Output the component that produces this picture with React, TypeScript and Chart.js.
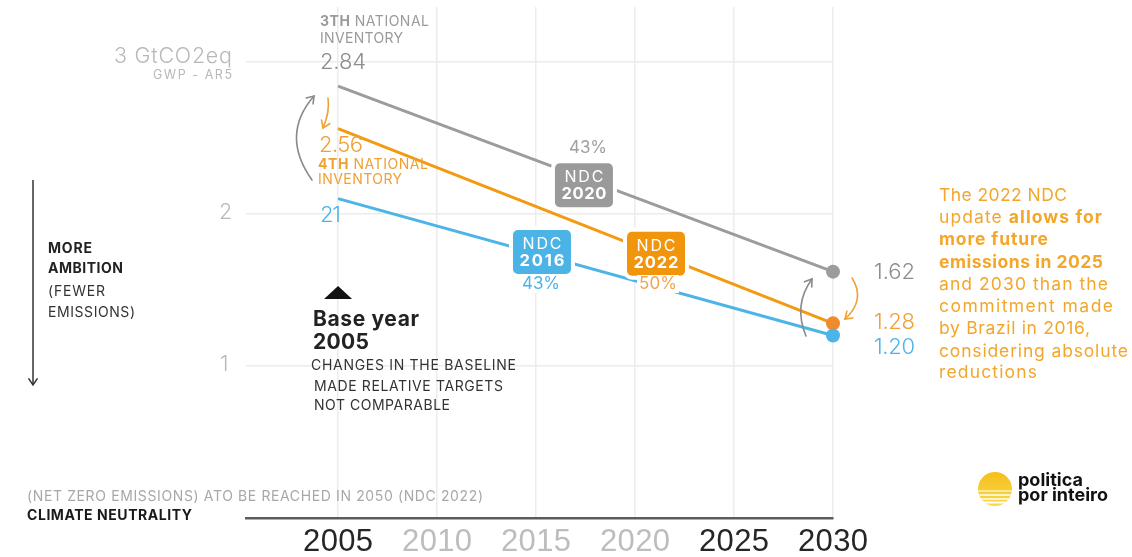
import React, { useEffect, useRef } from "react";
import { Chart, registerables } from "chart.js";
Chart.register(...registerables);

// ---- data ----
const xTickYears = [2005, 2010, 2015, 2020, 2025, 2030];
const xTickLabels = ["2005", "2010", "2015", "2020", "2025", "2030"];
const xTickEmphasis = [true, false, false, false, true, true];
const seriesYears = [2005, 2030];
const inventory3Ndc2020 = [2.84, 1.62];
const ndc2022 = [2.56, 1.28];
const ndc2016 = [2.1, 1.2];
const yTickValues = [1, 2, 3];
const yTickLabels = ["1", "2", "3 GtCO2eq"];
const startLabels = ["2.84", "2.56", "21"];
const endLabels = ["1.62", "1.28", "1.20"];
const ndcNames = ["NDC 2020", "NDC 2016", "NDC 2022"];
const ndcPercents = ["43%", "43%", "50%"];

const GRAY = "#9c9c9c";
const ORANGE = "#f29a12";
const BLUE = "#4db4e8";
const FONT = "Inter, 'Open Sans', sans-serif";

function arrowHead(ctx: CanvasRenderingContext2D, x: number, y: number, ang: number, len = 8) {
  ctx.beginPath();
  ctx.moveTo(x - len * Math.cos(ang - 0.6), y - len * Math.sin(ang - 0.6));
  ctx.lineTo(x, y);
  ctx.lineTo(x - len * Math.cos(ang + 0.6), y - len * Math.sin(ang + 0.6));
  ctx.stroke();
}

function curvedArrow(ctx: CanvasRenderingContext2D, color: string, sx: number, sy: number, cx: number, cy: number, ex: number, ey: number) {
  ctx.save();
  ctx.strokeStyle = color;
  ctx.lineWidth = 1.6;
  ctx.lineCap = "round";
  ctx.beginPath();
  ctx.moveTo(sx, sy);
  ctx.quadraticCurveTo(cx, cy, ex, ey);
  ctx.stroke();
  arrowHead(ctx, ex, ey, Math.atan2(ey - cy, ex - cx));
  ctx.restore();
}

// draws text fitted to a given visible width (letter spacing adjusted)
function fitText(ctx: CanvasRenderingContext2D, s: string, x: number, y: number, font: string, color: string, width: number, align: "left" | "right" | "center" = "left", bg?: string) {
  ctx.save();
  ctx.font = font;
  (ctx as any).letterSpacing = "0px";
  const w = ctx.measureText(s).width;
  const sp = s.length > 1 ? (width - w) / (s.length - 1) : 0;
  const left = align === "left" ? x : align === "right" ? x - width : x - width / 2;
  if (bg) {
    ctx.fillStyle = bg;
    ctx.fillRect(left - 2, y - 9, width + 4, 18);
  }
  (ctx as any).letterSpacing = `${sp}px`;
  ctx.fillStyle = color;
  ctx.textAlign = "left";
  ctx.textBaseline = "middle";
  ctx.fillText(s, left, y);
  ctx.restore();
}

function richLine(ctx: CanvasRenderingContext2D, parts: [string, boolean][], x: number, y: number, size: number, color: string, width: number) {
  ctx.save();
  ctx.fillStyle = color;
  ctx.textBaseline = "middle";
  (ctx as any).letterSpacing = "0px";
  let natural = 0;
  let n = 0;
  for (const [s, bold] of parts) {
    ctx.font = `${bold ? 700 : 400} ${size}px ${FONT}`;
    natural += ctx.measureText(s).width;
    n += s.length;
  }
  const sp = (width - natural) / Math.max(1, n - 1);
  (ctx as any).letterSpacing = `${sp}px`;
  let cx = x;
  for (const [s, bold] of parts) {
    ctx.font = `${bold ? 700 : 400} ${size}px ${FONT}`;
    ctx.fillText(s, cx, y);
    cx += ctx.measureText(s).width;
  }
  ctx.restore();
}

function roundRect(ctx: CanvasRenderingContext2D, x: number, y: number, w: number, h: number, r: number) {
  ctx.beginPath();
  ctx.moveTo(x + r, y);
  ctx.arcTo(x + w, y, x + w, y + h, r);
  ctx.arcTo(x + w, y + h, x, y + h, r);
  ctx.arcTo(x, y + h, x, y, r);
  ctx.arcTo(x, y, x + w, y, r);
  ctx.closePath();
}

const annotationPlugin = {
  id: "annotations",
  afterDraw(chart: any) {
    const ctx: CanvasRenderingContext2D = chart.ctx;
    const xs = chart.scales.x;
    const ys = chart.scales.y;
    const px = (v: number) => xs.getPixelForValue(v);
    const py = (v: number) => ys.getPixelForValue(v);
    const interp = (arr: number[], yr: number) =>
      arr[0] + ((arr[1] - arr[0]) * (yr - seriesYears[0])) / (seriesYears[1] - seriesYears[0]);

    // x tick labels
    xTickYears.forEach((yr, i) => {
      fitText(ctx, xTickLabels[i], px(yr), 542, `400 31px 'Liberation Sans', Arial, sans-serif`, xTickEmphasis[i] ? "#262626" : "#bdbdbd", 70, "center");
    });
    // y tick labels
    const yLabelW = [12, 13, 118];
    yTickValues.forEach((v, i) => {
      fitText(ctx, yTickLabels[i], 232, i === 2 ? py(v) - 5 : py(v) - 1, `300 21.5px ${FONT}`, "#b8b8b8", yLabelW[i], "right");
    });
    fitText(ctx, "GWP - AR5", 232, 75, `400 12.5px ${FONT}`, "#b8b8b8", 79, "right");

    // inventory labels
    richLine(ctx, [["3TH", true], [" NATIONAL", false]], 320, 22, 14, "#9a9a9a", 109);
    fitText(ctx, "INVENTORY", 320, 39, `400 14px ${FONT}`, "#9a9a9a", 83);
    fitText(ctx, startLabels[0], 320, 62, `300 22px ${FONT}`, "#8c8c8c", 46);
    fitText(ctx, startLabels[1], 319, 145, `300 22px ${FONT}`, "#f0a035", 44);
    richLine(ctx, [["4TH", true], [" NATIONAL", false]], 318, 165, 14, "#f0a035", 110);
    fitText(ctx, "INVENTORY", 318, 180, `400 14px ${FONT}`, "#f0a035", 84);
    fitText(ctx, startLabels[2], 320, 215, `300 22px ${FONT}`, BLUE, 21);

    // end labels
    fitText(ctx, endLabels[0], 874, 272, `300 22px ${FONT}`, "#8c8c8c", 41);
    fitText(ctx, endLabels[1], 874, 322, `300 22px ${FONT}`, "#f0a035", 41);
    fitText(ctx, endLabels[2], 874, 347, `300 22px ${FONT}`, BLUE, 41);

    // arrows near 2005
    curvedArrow(ctx, "#8a8a8a", 312, 180, 280, 135, 314, 96);
    curvedArrow(ctx, "#f0a035", 328, 98, 330, 112, 323, 128);
    // arrows near 2030
    curvedArrow(ctx, "#8a8a8a", 806, 336, 793, 305, 812, 279);
    curvedArrow(ctx, "#f0a035", 852, 278, 866, 300, 845, 319);

    // NDC boxes
    const boxes = [
      { arr: inventory3Ndc2020, yr: 2017.42, dy: 7, color: "#9a9a9a", pct: ndcPercents[0], pctColor: "#a0a0a0", pctX: 588, pctY: 148, name: ndcNames[0] },
      { arr: ndc2016, yr: 2015.3, dy: -3, color: "#4cb3e6", pct: ndcPercents[1], pctColor: BLUE, pctX: 541, pctY: 284, name: ndcNames[1] },
      { arr: ndc2022, yr: 2021.06, dy: 0, color: "#f0950c", pct: ndcPercents[2], pctColor: "#f0a550", pctX: 658, pctY: 284, name: ndcNames[2] },
    ];
    boxes.forEach((b) => {
      const cx = px(b.yr);
      const cy = py(interp(b.arr, b.yr)) + b.dy;
      const w = 58, h = 44;
      ctx.save();
      roundRect(ctx, cx - w / 2, cy - h / 2, w, h, 5);
      ctx.lineWidth = 8;
      ctx.strokeStyle = "#ffffff";
      ctx.stroke();
      ctx.fillStyle = b.color;
      ctx.fill();
      ctx.restore();
      const [a, c] = b.name.split(" ");
      fitText(ctx, a, cx, cy - 8, `400 16px ${FONT}`, "#ffffff", 39, "center");
      fitText(ctx, c, cx, cy + 9, `700 16.5px ${FONT}`, "#ffffff", 45, "center");
      fitText(ctx, b.pct, b.pctX, b.pctY, `400 17px ${FONT}`, b.pctColor, 38, "center", "#ffffff");
    });

    // left ambition arrow
    ctx.save();
    ctx.strokeStyle = "#333";
    ctx.lineWidth = 1.5;
    ctx.beginPath();
    ctx.moveTo(33, 180);
    ctx.lineTo(33, 384);
    ctx.stroke();
    arrowHead(ctx, 33, 385, Math.PI / 2, 8);
    ctx.restore();
    fitText(ctx, "MORE", 48, 249, `700 14px ${FONT}`, "#222", 44);
    fitText(ctx, "AMBITION", 48, 269, `700 14px ${FONT}`, "#222", 75);
    fitText(ctx, "(FEWER", 48, 292, `400 14px ${FONT}`, "#333", 57);
    fitText(ctx, "EMISSIONS)", 48, 313, `400 14px ${FONT}`, "#333", 87);

    // base year marker
    const bx = px(seriesYears[0]);
    ctx.save();
    ctx.fillStyle = "#111";
    ctx.beginPath();
    ctx.moveTo(bx - 14, 299);
    ctx.lineTo(bx + 14, 299);
    ctx.lineTo(bx, 286);
    ctx.closePath();
    ctx.fill();
    ctx.restore();
    fitText(ctx, "Base year", 313, 320, `700 21px ${FONT}`, "#222", 106);
    fitText(ctx, "2005", 313, 343, `700 21px ${FONT}`, "#222", 56);
    fitText(ctx, "CHANGES IN THE BASELINE", 311, 366, `400 14px ${FONT}`, "#333", 205);
    fitText(ctx, "MADE RELATIVE TARGETS", 314, 387, `400 14px ${FONT}`, "#333", 189);
    fitText(ctx, "NOT COMPARABLE", 314, 406, `400 14px ${FONT}`, "#333", 136);

    // right explanatory text
    const rc = "#f4a62a";
    const lines: [[string, boolean][], number][] = [
      [[["The 2022 NDC", false]], 128],
      [[["update ", false], ["allows for", true]], 163],
      [[["more future", true]], 109],
      [[["emissions in 2025", true]], 164],
      [[["and 2030 than the", false]], 169],
      [[["commitment made", false]], 174],
      [[["by Brazil in 2016,", false]], 151],
      [[["considering absolute", false]], 189],
      [[["reductions", false]], 98],
    ];
    const lineY = [196, 218, 240, 263, 285, 307, 329, 352, 373];
    lines.forEach(([ln, w], i) => richLine(ctx, ln, 939, lineY[i], 17.5, rc, w));

    // bottom left notes
    fitText(ctx, "(NET ZERO EMISSIONS) ATO BE REACHED IN 2050 (NDC 2022)", 27, 497, `400 14px ${FONT}`, "#a8a8a8", 456);
    fitText(ctx, "CLIMATE NEUTRALITY", 27, 516, `700 14px ${FONT}`, "#1a1a1a", 165);

    // logo
    ctx.save();
    ctx.beginPath();
    ctx.arc(995, 489, 17, 0, Math.PI * 2);
    const g = ctx.createLinearGradient(0, 472, 0, 506);
    g.addColorStop(0, "#f6bf1c");
    g.addColorStop(1, "#f9d84a");
    ctx.fillStyle = g;
    ctx.fill();
    ctx.clip();
    ctx.strokeStyle = "#ffffff";
    [2, 6, 10, 13.5].forEach((o, i) => {
      ctx.lineWidth = 1 + i * 0.3;
      ctx.beginPath();
      ctx.moveTo(975, 489 + o);
      ctx.lineTo(1015, 489 + o);
      ctx.stroke();
    });
    ctx.restore();
    fitText(ctx, "politica", 1018, 481, `700 18px ${FONT}`, "#111", 65);
    fitText(ctx, "por inteiro", 1018, 496, `700 18px ${FONT}`, "#111", 90);
  },
};

export default function App() {
  const ref = useRef<HTMLCanvasElement | null>(null);
  useEffect(() => {
    if (!ref.current) return;
    const mk = (vals: number[]) => seriesYears.map((x, i) => ({ x, y: vals[i] }));
    const chart = new Chart(ref.current, {
      type: "line",
      data: {
        datasets: [
          { label: "3rd inventory – NDC 2020", data: mk(inventory3Ndc2020), borderColor: GRAY, backgroundColor: GRAY, borderWidth: 3, pointRadius: [0, 7], pointBorderWidth: 0, clip: false, order: 3 },
          { label: "NDC 2022", data: mk(ndc2022), borderColor: ORANGE, backgroundColor: "#f08a2a", borderWidth: 3, pointRadius: [0, 7], pointBorderWidth: 0, clip: false, order: 2 },
          { label: "NDC 2016", data: mk(ndc2016), borderColor: BLUE, backgroundColor: BLUE, borderWidth: 3, pointRadius: [0, 7], pointBorderWidth: 0, clip: false, order: 1 },
        ] as any,
      },
      options: {
        animation: false,
        responsive: false,
        devicePixelRatio: 1,
        layout: { padding: { left: 246, right: 299, top: 0, bottom: 39 } },
        plugins: { legend: { display: false }, tooltip: { enabled: false } },
        events: [],
        scales: {
          x: {
            type: "linear",
            min: 2000.35,
            max: 2030,
            afterBuildTicks: (s: any) => { s.ticks = xTickYears.map((v) => ({ value: v })); },
            afterFit: (s: any) => { s.height = 0; },
            ticks: { display: false },
            grid: { color: "#ececec", lineWidth: 1.5, drawTicks: false },
            border: { display: true, color: "#5c5c5c", width: 2.5 },
          },
          y: {
            type: "linear",
            min: 0,
            max: 3.36,
            afterBuildTicks: (s: any) => { s.ticks = yTickValues.map((v) => ({ value: v })); },
            afterFit: (s: any) => { s.width = 0; },
            ticks: { display: false },
            grid: { color: "#ececec", lineWidth: 1.5, drawTicks: false },
            border: { display: false },
          },
        },
      } as any,
      plugins: [annotationPlugin],
    });
    return () => chart.destroy();
  }, []);
  return (
    <div style={{ position: "fixed", left: 0, top: 0, width: 1132, height: 557, background: "#fff" }}>
      <canvas ref={ref} width={1132} height={557} style={{ display: "block" }} />
    </div>
  );
}
